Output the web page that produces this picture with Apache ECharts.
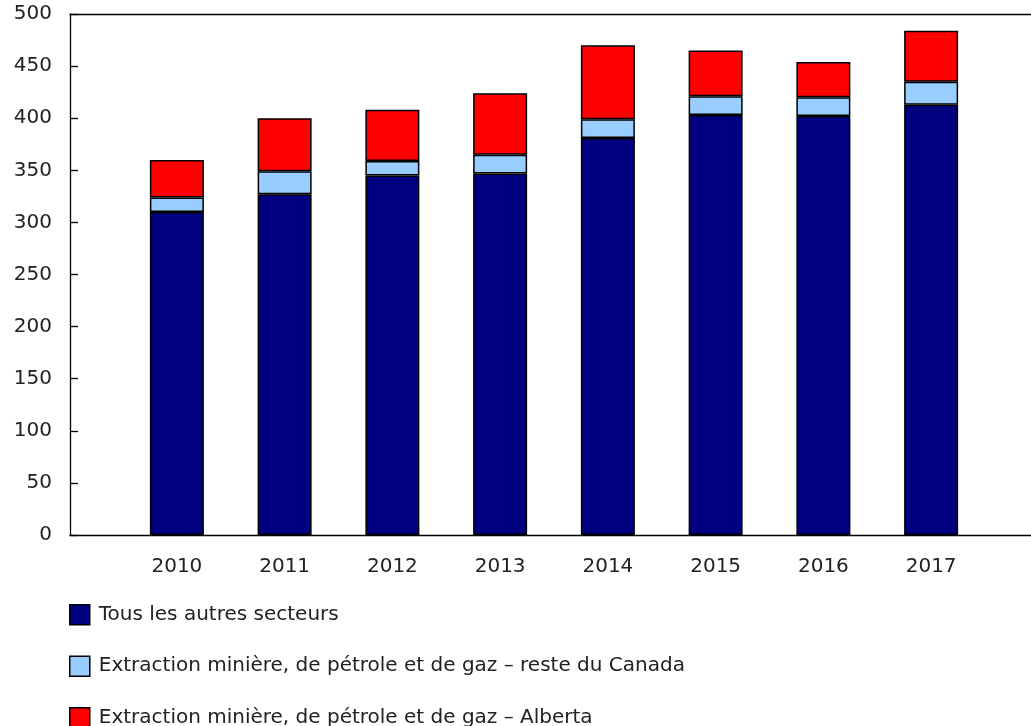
<!DOCTYPE html>
<html>
<head>
<meta charset="utf-8">
<script src="https://cdn.jsdelivr.net/npm/echarts@6/dist/echarts.min.js"></script>
<style>html,body{margin:0;padding:0;background:#fff;}#c{width:1031px;height:726px;}</style>
</head>
<body>
<div id="c"></div>
<script>
var years = ['2010','2011','2012','2013','2014','2015','2016','2017'];
var autres = [310, 327, 345, 347, 381, 403, 402, 413];
var resteCanada = [14, 22, 14, 18, 18, 18, 18, 22];
var alberta = [36, 51, 49, 59, 71, 44, 34, 49];
var yTicks = { min: 0, max: 500, interval: 50 };
var names = ['Tous les autres secteurs',
  'Extraction minière, de pétrole et de gaz – reste du Canada',
  'Extraction minière, de pétrole et de gaz – Alberta'];
var colors = ['#000080', '#99CCFF', '#FF0000'];

var font = 'DejaVu Sans';
var chart = echarts.init(document.getElementById('c'));
function bar(name, data, color) {
  return {
    name: name, type: 'bar', stack: 'total', data: data,
    xAxisIndex: 0, yAxisIndex: 0, barWidth: 54,
    itemStyle: { color: color, borderColor: '#000', borderWidth: 1.5 },
    emphasis: { disabled: true }
  };
}
chart.setOption({
  animation: false,
  textStyle: { fontFamily: font },
  grid: [
    { left: 123, right: 46, top: 14, bottom: 191 },
    { left: 70, right: 0, top: 14, bottom: 191 }
  ],
  xAxis: [
    { type: 'category', gridIndex: 0, data: years, boundaryGap: true,
      axisLine: { show: false }, axisTick: { show: false },
      axisLabel: { fontSize: 20, color: '#222', margin: 22, fontFamily: font } },
    { type: 'value', gridIndex: 1, min: 0, max: 1, position: 'bottom',
      axisLine: { show: true, lineStyle: { color: '#000', width: 1.3 } },
      axisTick: { show: false }, axisLabel: { show: false }, splitLine: { show: false } },
    { type: 'value', gridIndex: 1, min: 0, max: 1, position: 'top',
      axisLine: { show: true, lineStyle: { color: '#000', width: 1.3 } },
      axisTick: { show: false }, axisLabel: { show: false }, splitLine: { show: false } }
  ],
  yAxis: [
    { type: 'value', gridIndex: 0, min: yTicks.min, max: yTicks.max, interval: yTicks.interval,
      offset: 53,
      axisLine: { show: true, lineStyle: { color: '#000', width: 1.3 } },
      axisTick: { show: true, inside: true, length: 8, lineStyle: { color: '#000', width: 1.3 } },
      axisLabel: { fontSize: 20, color: '#222', margin: 18, fontFamily: font },
      splitLine: { show: false } },
    { type: 'value', gridIndex: 1, show: false, min: 0, max: 1 }
  ],
  legend: {
    orient: 'vertical', left: 64, top: 599, height: 300,
    itemWidth: 20, itemHeight: 20, itemGap: 30,
    icon: 'rect',
    data: names,
    itemStyle: { borderColor: '#000', borderWidth: 1.5 },
    textStyle: { fontSize: 20, color: '#222', fontFamily: font, padding: [0, 0, 0, 4] }
  },
  series: [
    bar(names[0], autres, colors[0]),
    bar(names[1], resteCanada, colors[1]),
    bar(names[2], alberta, colors[2])
  ]
});
</script>
</body>
</html>
